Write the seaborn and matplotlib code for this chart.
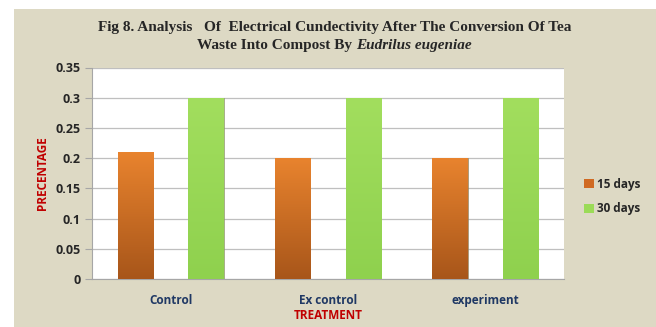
import numpy as np
import pandas as pd
import matplotlib
matplotlib.use("Agg")
import matplotlib.pyplot as plt
import seaborn as sns
from matplotlib.patches import Rectangle
from matplotlib.colors import LinearSegmentedColormap

# data
treatments = ["Control", "Ex control", "experiment"]
days_15 = [0.21, 0.20, 0.20]
days_30 = [0.30, 0.30, 0.30]
series_names = ["15 days", "30 days"]

df = pd.DataFrame({
    "treatment": treatments * 2,
    "value": days_15 + days_30,
    "period": [series_names[0]] * 3 + [series_names[1]] * 3,
})

bg = "#DDD9C4"
orange = "#D06A22"
green = "#9BDB57"
serif = ["Liberation Serif", "DejaVu Serif"]

sns.set_style("white")
plt.rcParams["font.family"] = ["Open Sans", "DejaVu Sans"]

fig = plt.figure(figsize=(6.56, 3.27), dpi=100)
fig.patch.set_facecolor("white")
fig.patches.append(Rectangle((14 / 656, 0), 1, 1 - 9 / 327, transform=fig.transFigure,
                             facecolor=bg, edgecolor="none", zorder=-10))

ax = fig.add_axes([92 / 656, 1 - 279 / 327, (564 - 92) / 656, (279 - 67.5) / 327])
ax.set_facecolor("white")

sns.barplot(data=df, x="treatment", y="value", hue="period",
            palette=[orange, green], width=0.9, gap=0.5,
            edgecolor="none", ax=ax, legend=True)

# gradient on the orange bars, slight shading on green ones
orange_cmap = LinearSegmentedColormap.from_list("o", ["#A8561A", "#E8832E"])
green_cmap = LinearSegmentedColormap.from_list("g", ["#8FD14E", "#A2DE5E"])
grad = np.linspace(0, 1, 64).reshape(-1, 1)
for i, bar in enumerate(ax.patches[:6]):
    x0, y0 = bar.get_x(), bar.get_y()
    w, h = bar.get_width(), bar.get_height()
    cm = orange_cmap if i < 3 else green_cmap
    im = ax.imshow(grad, cmap=cm, extent=[x0, x0 + w, y0, y0 + h],
                   origin="lower", aspect="auto", zorder=3)
    im.set_clip_path(bar)
    bar.set_edgecolor("#8A8A6A")
    bar.set_linewidth(0.4)
    bar.set_zorder(3)

ax.set_xlim(-0.5, 2.5)
ax.set_ylim(0, 0.35)
ax.set_yticks(np.arange(0, 0.351, 0.05))
ax.set_yticklabels(["0", "0.05", "0.1", "0.15", "0.2", "0.25", "0.3", "0.35"])
ax.yaxis.grid(True, color="#BFBFBF", linewidth=0.9)
ax.set_axisbelow(True)

for s in ["top", "right"]:
    ax.spines[s].set_visible(False)
ax.spines["left"].set_color("#A6A6A6")
ax.spines["bottom"].set_color("#A6A6A6")
ax.tick_params(axis="y", left=True, length=5, color="#A6A6A6", labelsize=9, pad=3)
ax.tick_params(axis="x", bottom=False, labelsize=8.5, pad=7, labelcolor="#1F3864")
for t in ax.get_yticklabels() + ax.get_xticklabels():
    t.set_fontweight("bold")
for t in ax.get_yticklabels():
    t.set_color("#262626")

ax.set_xlabel("TREATMENT", color="#C00000", fontsize=8.5, fontweight="bold", labelpad=2)
ax.set_ylabel("PRECENTAGE", color="#C00000", fontsize=8.5, fontweight="bold", labelpad=5)

leg = ax.legend(loc="center left", bbox_to_anchor=(1.02, 0.39), frameon=False,
                handlelength=0.8, handleheight=0.8, handletextpad=0.3,
                labelspacing=1.0, prop={"weight": "bold", "size": 8.5})
leg.legend_handles[0].set_facecolor(orange)
leg.legend_handles[1].set_facecolor(green)

fig.text(0.51, 1 - 27 / 327,
         "Fig 8. Analysis   Of  Electrical Cundectivity After The Conversion Of Tea",
         ha="center", va="center", fontsize=11, fontweight="bold", family=serif)

# second title line: normal part + italic species name, centred together
renderer = fig.canvas.get_renderer()
t1 = fig.text(0, 1 - 45 / 327, "Waste Into Compost By ", ha="left", va="center",
              fontsize=11, fontweight="bold", family=serif)
t2 = fig.text(0, 1 - 45 / 327, "Eudrilus eugeniae", ha="left", va="center",
              fontsize=11, fontweight="bold", style="italic", family=serif)
w1 = t1.get_window_extent(renderer).width / fig.bbox.width
w2 = t2.get_window_extent(renderer).width / fig.bbox.width
start = 0.51 - (w1 + w2) / 2
t1.set_x(start)
t2.set_x(start + w1)

fig.savefig("out.png", dpi=100)
